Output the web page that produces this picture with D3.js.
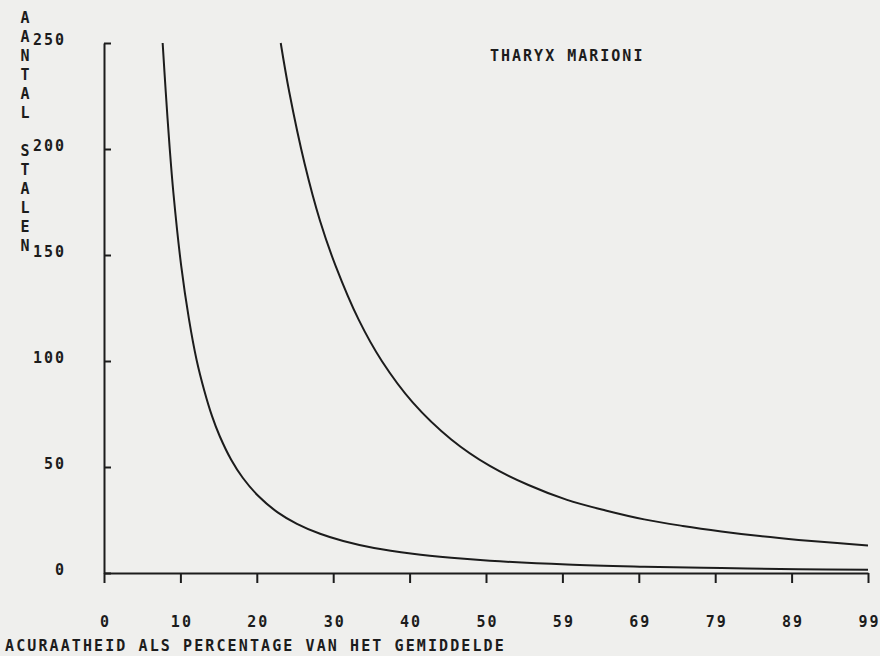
<!DOCTYPE html>
<html>
<head>
<meta charset="utf-8">
<script src="https://cdn.jsdelivr.net/npm/d3@7"></script>
<style>
  html, body { margin: 0; padding: 0; background: #efefed; }
  svg { display: block; }
  text { font-family: "DejaVu Sans Mono", monospace; font-weight: bold; fill: #1c1c1c; }
</style>
</head>
<body>
<svg id="chart" width="880" height="656"></svg>
<script>
// ---- data ----
const title = "THARYX MARIONI";
const xTitle = "ACURAATHEID ALS PERCENTAGE VAN HET GEMIDDELDE";
const yTitleLetters = ["A","A","N","T","A","L"," ","S","T","A","L","E","N"];
const xTickValues = [0, 9.9, 19.8, 29.7, 39.6, 49.5, 59.4, 69.3, 79.2, 89.1, 99];
const xTickLabels = ["0","10","20","30","40","50","59","69","79","89","99"];
const yTickValues = [0, 50, 100, 150, 200, 250];

// inner curve (x = accuracy %, y = number of samples)
const curve1X = [7.6, 8, 8.5, 9, 10, 11, 12, 13, 14, 15, 16.5, 18, 20, 22.5, 25, 28, 31, 35, 40, 45, 50, 60, 70, 80, 90, 99];
const curve1Y = [250, 227, 201, 179, 145, 120, 100.5, 86, 74, 64.5, 53.3, 44.8, 36.3, 28.6, 23.2, 18.5, 15.1, 11.8, 9.1, 7.2, 5.8, 4.0, 3.0, 2.3, 1.8, 1.5];
// outer curve
const curve2X = [22.9, 24, 26, 28, 30, 33, 36, 40, 45, 50, 55, 60, 65, 70, 75, 80, 85, 90, 95, 99];
const curve2Y = [250, 227, 193, 166, 145, 119.5, 100, 80.5, 63, 50.5, 41.5, 34.5, 29.5, 25.3, 22.2, 19.6, 17.4, 15.6, 14.1, 13];

// ---- drawing ----
const svg = d3.select("#chart");
const ink = "#1c1c1c";
const x = d3.scaleLinear().domain([0, 99]).range([104, 868]);
const y = d3.scaleLinear().domain([0, 250]).range([573, 43]);

// x axis
const gx = svg.append("g").attr("transform", `translate(0,${y(0)})`)
  .call(d3.axisBottom(x).tickValues(xTickValues)
    .tickFormat((d, i) => xTickLabels[i]).tickSize(10).tickSizeOuter(0));
gx.select(".domain").attr("stroke", ink).attr("stroke-width", 2);
gx.selectAll(".tick line").attr("stroke", ink).attr("stroke-width", 2);
gx.selectAll(".tick text").attr("y", 54).attr("dy", 0).attr("dx", 1)
  .style("font-size", "15px").style("letter-spacing", "2px")
  .attr("fill", ink);

// y axis
const gy = svg.append("g").attr("transform", `translate(${x(0)},0)`)
  .call(d3.axisLeft(y).tickValues(yTickValues).tickSize(-7).tickSizeOuter(0).tickPadding(38));
gy.select(".domain").attr("stroke", ink).attr("stroke-width", 2);
gy.selectAll(".tick line").attr("stroke", ink).attr("stroke-width", 2);
gy.selectAll(".tick text").attr("dy", 1).attr("fill", ink)
  .style("font-size", "15px").style("letter-spacing", "2px");

// curves
const line = d3.line().x(d => x(d[0])).y(d => y(d[1])).curve(d3.curveCatmullRom.alpha(0.5));
[[curve1X, curve1Y], [curve2X, curve2Y]].forEach(([xs, ys]) => {
  svg.append("path")
    .datum(xs.map((v, i) => [v, ys[i]]))
    .attr("d", line)
    .attr("fill", "none")
    .attr("stroke", ink)
    .attr("stroke-width", 2);
});

// y title, stacked letters
svg.append("g").selectAll("text").data(yTitleLetters).join("text")
  .attr("x", 25).attr("y", (d, i) => 17 + 19 * i + 5.5)
  .attr("text-anchor", "middle")
  .style("font-size", "15px")
  .text(d => d);

// x title
svg.append("text").attr("x", 5).attr("y", 651)
  .style("font-size", "15px").style("letter-spacing", "2.1px")
  .text(xTitle);

// chart title
svg.append("text").attr("x", 490).attr("y", 60.5)
  .style("font-size", "15px").style("letter-spacing", "2px")
  .text(title);
</script>
</body>
</html>
